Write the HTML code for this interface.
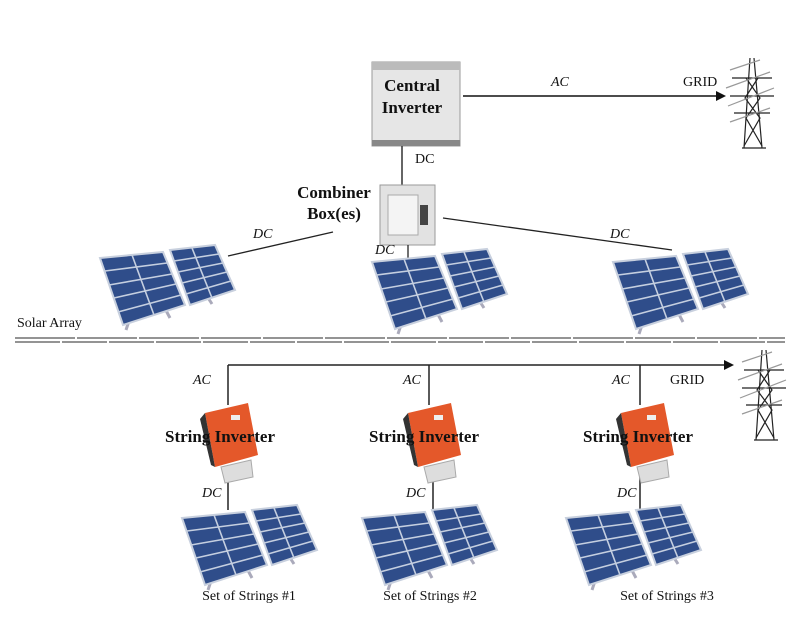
<!DOCTYPE html>
<html><head><meta charset="utf-8"><style>
html,body{margin:0;padding:0;background:#fff;}
svg{display:block;}
text{font-family:"Liberation Serif",serif;fill:#111;}
.b{font-weight:bold;font-size:17px;}
.i{font-style:italic;font-size:14px;}
.n{font-size:14px;}
</style></head><body>
<svg width="800" height="622" viewBox="0 0 800 622" xmlns="http://www.w3.org/2000/svg">
<defs>
<g id="pair">
<path d="M30 60 L26 72 M62 45 L70 60 M105 35 L112 46" stroke="#aab" stroke-width="3"/>
<polygon points="0,0 63,-6 85,47 23,67" fill="#2f4d8a" stroke="#c8d0de" stroke-width="2"/>
<path d="M5,13 L67,5 M9,27 L72,16 M14,40 L76,26 M18,54 L81,37 M32,-3 L54,57" stroke="#c5cfe0" stroke-width="1.6"/>
<polygon points="70,-8 115,-13 135,32 90,47" fill="#2f4d8a" stroke="#c8d0de" stroke-width="2"/>
<path d="M74,3 L119,-4 M78,14 L123,5 M82,25 L127,14 M86,36 L131,23 M92,-10 L112,40" stroke="#c5cfe0" stroke-width="1.6"/>
</g>
<g id="tower" stroke="#222" stroke-width="1.2" fill="none">
<path d="M20 0 L14 90 M24 0 L32 90 M12 90 H36"/>
<path d="M2 20 H42 M0 38 H44 M4 55 H40"/>
<path d="M16 20 L30 40 L16 60 L32 88 M28 20 L15 40 L30 60 L14 88"/>
<path d="M0 12 L30 2 M-4 30 L40 14 M-2 48 L44 30 M0 64 L40 50" stroke="#999"/>
</g>
<g id="sinv">
<polygon points="2,8 45,-2 55,50 12,62" fill="#e4582a"/>
<polygon points="2,8 12,62 8,60 -3,14" fill="#333"/>
<rect x="28" y="10" width="9" height="5" fill="#eee"/>
<polygon points="18,62 48,55 50,72 22,78" fill="#ddd" stroke="#aaa"/>
</g>
</defs>

<rect x="372" y="62" width="88" height="84" fill="#e6e6e6" stroke="#999"/>
<rect x="372" y="62" width="88" height="8" fill="#bbb"/>
<rect x="372" y="140" width="88" height="6" fill="#888"/>
<text class="b" x="412" y="91" text-anchor="middle">Central</text>
<text class="b" x="412" y="113" text-anchor="middle">Inverter</text>
<line x1="463" y1="96" x2="716" y2="96" stroke="#111" stroke-width="1.5"/>
<polygon points="716,91 726,96 716,101" fill="#111"/>
<text class="i" x="551" y="86">AC</text>
<text class="n" x="683" y="86">GRID</text>
<use href="#tower" x="730" y="58"/>

<line x1="402" y1="146" x2="402" y2="186" stroke="#333" stroke-width="1.5"/>
<text class="n" x="415" y="163">DC</text>

<rect x="380" y="185" width="55" height="60" fill="#e2e2e2" stroke="#999"/>
<rect x="388" y="195" width="30" height="40" fill="#f4f4f4" stroke="#aaa"/>
<rect x="420" y="205" width="8" height="20" fill="#444"/>
<text class="b" x="334" y="198" text-anchor="middle">Combiner</text>
<text class="b" x="334" y="219" text-anchor="middle">Box(es)</text>
<line x1="228" y1="256" x2="333" y2="232" stroke="#222" stroke-width="1.3"/>
<text class="i" x="253" y="238">DC</text>
<line x1="443" y1="218" x2="672" y2="250" stroke="#222" stroke-width="1.3"/>
<text class="i" x="610" y="238">DC</text>
<line x1="408" y1="245" x2="408" y2="262" stroke="#222" stroke-width="1.3"/>
<text class="i" x="375" y="254">DC</text>

<use href="#pair" x="100" y="258"/>
<use href="#pair" x="372" y="262"/>
<use href="#pair" x="613" y="262"/>

<text class="n" x="17" y="327">Solar Array</text>
<line x1="15" y1="338" x2="785" y2="338" stroke="#555" stroke-width="1.2" stroke-dasharray="60,2"/>
<line x1="15" y1="342" x2="785" y2="342" stroke="#555" stroke-width="1.2" stroke-dasharray="45,2"/>

<line x1="228" y1="365" x2="724" y2="365" stroke="#222" stroke-width="1.5"/>
<polygon points="724,360 734,365 724,370" fill="#111"/>
<text class="n" x="670" y="384">GRID</text>
<use href="#tower" x="742" y="350"/>

<g stroke="#222" stroke-width="1.5">
<line x1="228" y1="365" x2="228" y2="405"/><line x1="429" y1="365" x2="429" y2="405"/><line x1="640" y1="365" x2="640" y2="405"/>
<line x1="228" y1="472" x2="228" y2="510"/><line x1="433" y1="472" x2="433" y2="510"/><line x1="640" y1="472" x2="640" y2="510"/>
</g>
<text class="i" x="193" y="384">AC</text>
<text class="i" x="403" y="384">AC</text>
<text class="i" x="612" y="384">AC</text>
<text class="i" x="202" y="497">DC</text>
<text class="i" x="406" y="497">DC</text>
<text class="i" x="617" y="497">DC</text>

<use href="#sinv" x="203" y="405"/>
<use href="#sinv" x="406" y="405"/>
<use href="#sinv" x="619" y="405"/>
<text class="b" x="220" y="442" text-anchor="middle">String Inverter</text>
<text class="b" x="424" y="442" text-anchor="middle">String Inverter</text>
<text class="b" x="638" y="442" text-anchor="middle">String Inverter</text>

<use href="#pair" x="182" y="518"/>
<use href="#pair" x="362" y="518"/>
<use href="#pair" x="566" y="518"/>
<text class="n" x="249" y="600" text-anchor="middle">Set of Strings #1</text>
<text class="n" x="430" y="600" text-anchor="middle">Set of Strings #2</text>
<text class="n" x="667" y="600" text-anchor="middle">Set of Strings #3</text>
</svg>
</body></html>
